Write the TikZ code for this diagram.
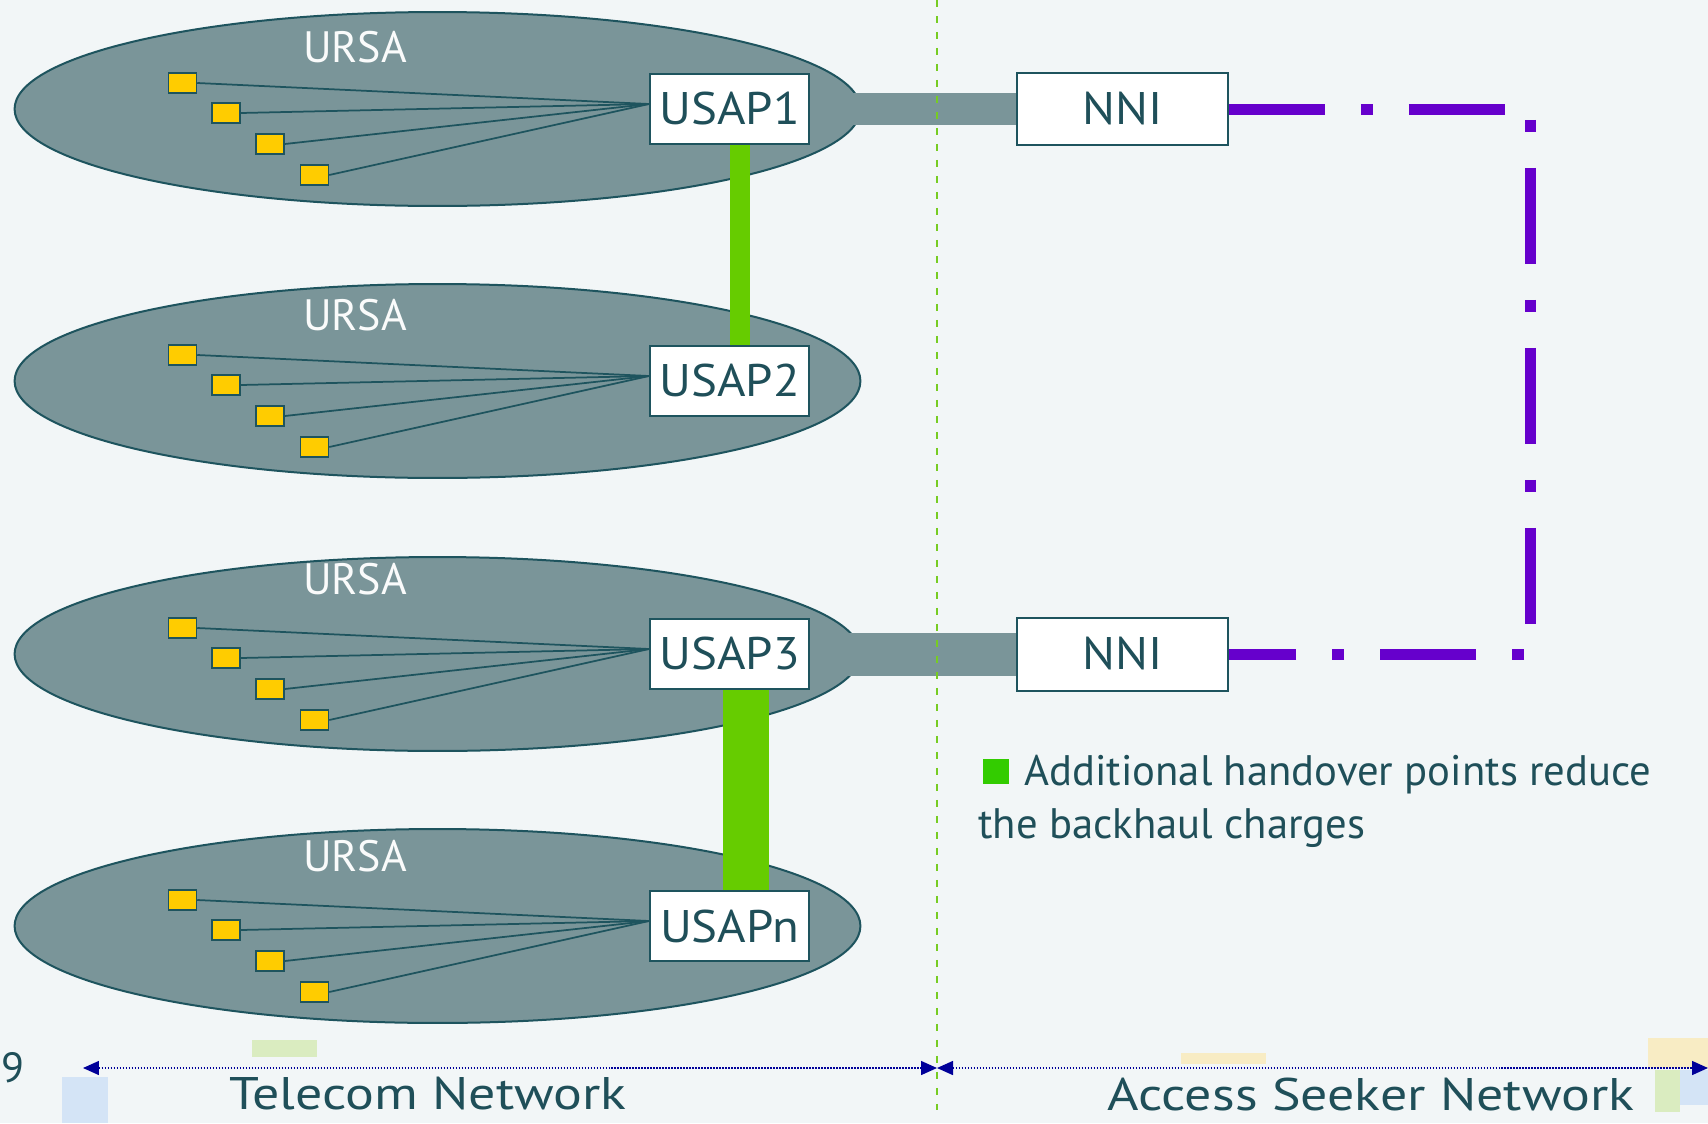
\documentclass[tikz,border=0pt]{standalone}
\usepackage{fontspec}
\setmainfont{PT Sans}
\newfontfamily\widesans[FakeStretch=1.18]{PT Sans}
\newfontfamily\boxsans[FakeStretch=1.07]{PT Sans}
\usetikzlibrary{shapes.geometric,arrows.meta,calc}

\definecolor{paper}{RGB}{242,246,247}
\definecolor{ursafill}{RGB}{122,149,153}
\definecolor{ursaline}{RGB}{30,84,94}
\definecolor{inktext}{RGB}{31,79,89}
\definecolor{termfill}{RGB}{255,204,0}
\definecolor{handover}{RGB}{102,204,0}
\definecolor{keygreen}{RGB}{51,204,0}
\definecolor{nnilink}{RGB}{102,0,204}
\definecolor{spanblue}{RGB}{0,0,153}
\definecolor{divider}{RGB}{119,204,34}
\definecolor{patchblue}{RGB}{212,228,246}
\definecolor{patchgreen}{RGB}{218,236,192}
\definecolor{patchyellow}{RGB}{248,236,196}

\begin{document}
\begin{tikzpicture}[
    x=0.02cm,
    y=-0.02cm,
    ursa/.style={
        ellipse,
        draw=ursaline,
        line width=0.04cm,
        fill=ursafill,
        minimum width=16.92cm,
        minimum height=3.88cm,
        inner sep=0pt
    },
    ursa label/.style={
        text=white!96!ursafill,
        font=\fontsize{25}{30}\selectfont,
        inner sep=0pt
    },
    terminal/.style={
        rectangle,
        draw=ursaline,
        line width=0.03cm,
        fill=termfill,
        minimum width=0.56cm,
        minimum height=0.4cm,
        inner sep=0pt
    },
    feeder/.style={
        draw=ursaline,
        line width=0.035cm
    },
    usap/.style={
        rectangle,
        draw=ursaline,
        line width=0.04cm,
        fill=white,
        text=inktext,
        font=\boxsans\fontsize{26}{30}\selectfont,
        minimum width=3.18cm,
        minimum height=1.4cm,
        inner sep=0pt
    },
    nni/.style={
        usap,
        minimum width=4.22cm,
        minimum height=1.46cm
    },
    trunk/.style={
        draw=ursafill,
        line width=0.64cm
    },
    handover link/.style={
        draw=handover,
        line width=0.4cm
    },
    nni link/.style={
        draw=nnilink,
        line width=0.22cm,
        dash pattern=on 1.92cm off 0.72cm on 0.24cm off 0.72cm,
        line join=miter
    },
    divider line/.style={
        draw=divider,
        line width=0.04cm,
        dash pattern=on 0.14cm off 0.18cm
    },
    span line/.style={
        draw=spanblue,
        line width=0.03cm,
        dash pattern=on 0.03cm off 0.03cm,
        {Triangle[length=0.32cm,width=0.28cm]}-{Triangle[length=0.32cm,width=0.28cm]}
    },
    key/.style={
        rectangle,
        fill=keygreen,
        minimum width=0.52cm,
        minimum height=0.5cm,
        inner sep=0pt
    },
    legend text/.style={
        text=inktext,
        font=\fontsize{24.3}{30}\selectfont,
        inner sep=0pt,
        anchor=base west
    },
    span label/.style={
        text=inktext,
        font=\widesans\fontsize{26}{30}\selectfont,
        inner sep=0pt,
        anchor=base
    }
    ]
    \fill[paper] (0,0) rectangle (1708,1123);
    \useasboundingbox (0,0) rectangle (1708,1123);

    \fill[patchblue] (62,1077) rectangle (108,1123);
    \fill[patchgreen] (252,1040) rectangle (317,1057);
    \fill[patchyellow] (1181,1053) rectangle (1266,1064);
    \fill[patchyellow] (1648,1038) rectangle (1708,1068);
    \fill[patchgreen] (1655,1070) rectangle (1680,1112);
    \fill[patchblue] (1680,1070) rectangle (1708,1105);

    \foreach \r/\ry in {1/109,2/381,3/654,n/926}
        \node[ursa] (e\r) at (437.5,\ry) {};

    \foreach \r/\ry/\ly in {1/109/47.5,2/381/315,3/654/579,n/926/856.5}{
        \node[ursa label] (l\r) at (355,\ly) {URSA};
        \node[usap] (u\r) at (729.5,\ry) {USAP\r};
        \foreach \k/\tx/\ty in {a/182.5/-26,b/226/4,c/270/35,d/314.5/66}{
            \node[terminal] (t\r\k) at (\tx,\ry+\ty) {};
            \draw[feeder] (t\r\k.east) -- ($(u\r.west)+(0,-5)$);
        }
    }

    \node[nni] (n1) at (1122.5,109) {NNI};
    \node[nni] (n3) at (1122.5,654) {NNI};

    \draw[trunk] (u1.east) -- (n1.west);
    \draw[trunk, line width=0.86cm] (u3.east) -- (n3.west);

    \draw[handover link] ([xshift=0.21cm]u1.south) -- ([xshift=0.21cm]u2.north);
    \draw[handover link, line width=0.92cm] ([xshift=0.33cm]u3.south) -- ([xshift=0.33cm]un.north);

    \coordinate (turn top) at (1530,109);
    \coordinate (turn bot) at (1530,654);
    \draw[nni link] (n1.east) -- (turn top) -- (turn bot) -- (n3.east);

    \coordinate (div top) at (937,0);
    \coordinate (div bot) at (937,1110);
    \draw[divider line] (div top) -- (div bot);

    \node[key] (key) at (996,771.5) {};
    \node[legend text] (lg1) at (1024,785) {Additional handover points reduce};
    \node[legend text] (lg2) at (978,838) {the backhaul charges};

    \coordinate (span left) at (83,1068);
    \coordinate (span mid) at (937,1068);
    \coordinate (span right) at (1708,1068);
    \draw[span line] (span left) -- (span mid);
    \draw[span line] (span mid) -- (span right);

    \node[span label] (tel) at (428,1109) {Telecom Network};
    \node[span label] (asn) at (1371,1110) {Access Seeker Network};
    \node[span label, anchor=base west, font=\fontsize{24}{30}\selectfont] (pg) at (1,1082) {9};
\end{tikzpicture}
\end{document}
